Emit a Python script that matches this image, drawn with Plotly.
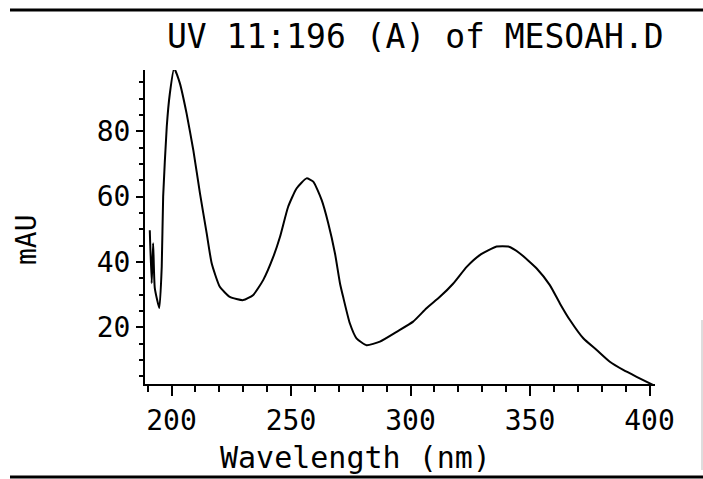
import plotly.graph_objects as go

# UV spectrum
wavelength_nm = [190.9, 191.7, 192.3, 193.0, 194.9, 195.9, 196.5, 198.0, 199.3, 201.1,
                 203.5, 206.3, 209.1, 211.9, 214.7, 216.8, 220.2, 224.4, 230.0, 234.2,
                 238.4, 242.6, 245.4, 248.8, 252.3, 256.5, 259.3, 262.8, 265.6, 268.4,
                 270.5, 271.8, 274.6, 277.4, 281.6, 287.2, 294.2, 301.1, 306.7, 312.3,
                 317.9, 323.5, 329.0, 336.0, 340.9, 345.8, 352.8, 358.3, 362.5, 366.7,
                 372.3, 377.9, 383.4, 389.0, 394.6, 401.5]
absorbance_mau = [49.7, 33.5, 45.7, 32.0, 25.9, 38.5, 60.0, 81.4, 91.6, 99.3,
                  94.7, 85.5, 74.3, 61.0, 48.8, 39.6, 32.4, 29.3, 28.3, 29.9,
                  34.5, 41.6, 47.7, 56.9, 62.5, 65.6, 64.6, 59.0, 51.8, 42.6,
                  33.4, 29.3, 21.2, 16.6, 14.5, 15.6, 18.6, 21.7, 25.8, 29.3,
                  33.4, 38.5, 42.1, 44.7, 44.7, 42.6, 38.0, 32.9, 27.3, 22.2,
                  16.6, 13.0, 9.4, 6.9, 4.8, 2.3]

x_range = [188.9, 402.3]
y_range = [2.6, 98.8]
title_text = "UV 11:196 (A) of MESOAH.D"
x_title = "Wavelength (nm)"
y_title = "mAU"

FONT = "DejaVu Sans Mono"

fig = go.Figure()
fig.add_trace(go.Scatter(
    x=wavelength_nm, y=absorbance_mau, mode="lines",
    line=dict(color="black", width=2, shape="spline", smoothing=0.5),
    hoverinfo="skip", showlegend=False,
))

W, H = 703, 479
L, R, T, B = 145, 48, 70, 95

fig.update_layout(
    width=W, height=H,
    margin=dict(l=L, r=R, t=T, b=B, pad=0),
    paper_bgcolor="white", plot_bgcolor="white",
    showlegend=False,
    font=dict(family=FONT, color="black"),
)

fig.update_xaxes(
    range=x_range, showgrid=False, zeroline=False,
    showline=True, linecolor="black", linewidth=2,
    ticks="outside", tick0=200, dtick=50, ticklen=10, tickwidth=2, tickcolor="black",
    minor=dict(ticks="outside", tick0=200, dtick=10, ticklen=6, tickwidth=2, tickcolor="black", showgrid=False),
    tickfont=dict(family=FONT, size=28, color="black"),
    ticklabelstandoff=0,
)
fig.update_yaxes(
    range=y_range, showgrid=False, zeroline=False,
    showline=True, linecolor="black", linewidth=2,
    ticks="outside", tick0=0, dtick=20, ticklen=7, tickwidth=2, tickcolor="black",
    minor=dict(ticks="outside", tick0=0, dtick=5, ticklen=4, tickwidth=2, tickcolor="black", showgrid=False),
    tickfont=dict(family=FONT, size=28, color="black"),
    ticklabelstandoff=0,
)

pw = W - L - R
ph = H - T - B

def px(xp):
    return (xp - L) / pw

def py(yp):
    return (H - B - yp) / ph

fig.add_annotation(text=title_text, x=px(415.5), y=py(36), xref="paper", yref="paper",
                   xanchor="center", yanchor="middle", showarrow=False,
                   font=dict(family=FONT, size=33, color="black"))
fig.add_annotation(text=x_title, x=px(355), y=py(457), xref="paper", yref="paper",
                   xanchor="center", yanchor="middle", showarrow=False,
                   font=dict(family=FONT, size=30, color="black"))
fig.add_annotation(text=y_title, x=px(26), y=py(240), xref="paper", yref="paper",
                   xanchor="center", yanchor="middle", showarrow=False, textangle=-90,
                   font=dict(family=FONT, size=28, color="black"))

# scan border lines
fig.add_shape(type="line", xref="paper", yref="paper", x0=px(10), x1=px(703), y0=py(10), y1=py(10),
              line=dict(color="black", width=3))
fig.add_shape(type="line", xref="paper", yref="paper", x0=px(10), x1=px(703), y0=py(477), y1=py(477),
              line=dict(color="black", width=3))
fig.add_shape(type="line", xref="paper", yref="paper", x0=px(702), x1=px(702), y0=py(320), y1=py(470),
              line=dict(color="#bbbbbb", width=1))

fig.write_html("out.html")
